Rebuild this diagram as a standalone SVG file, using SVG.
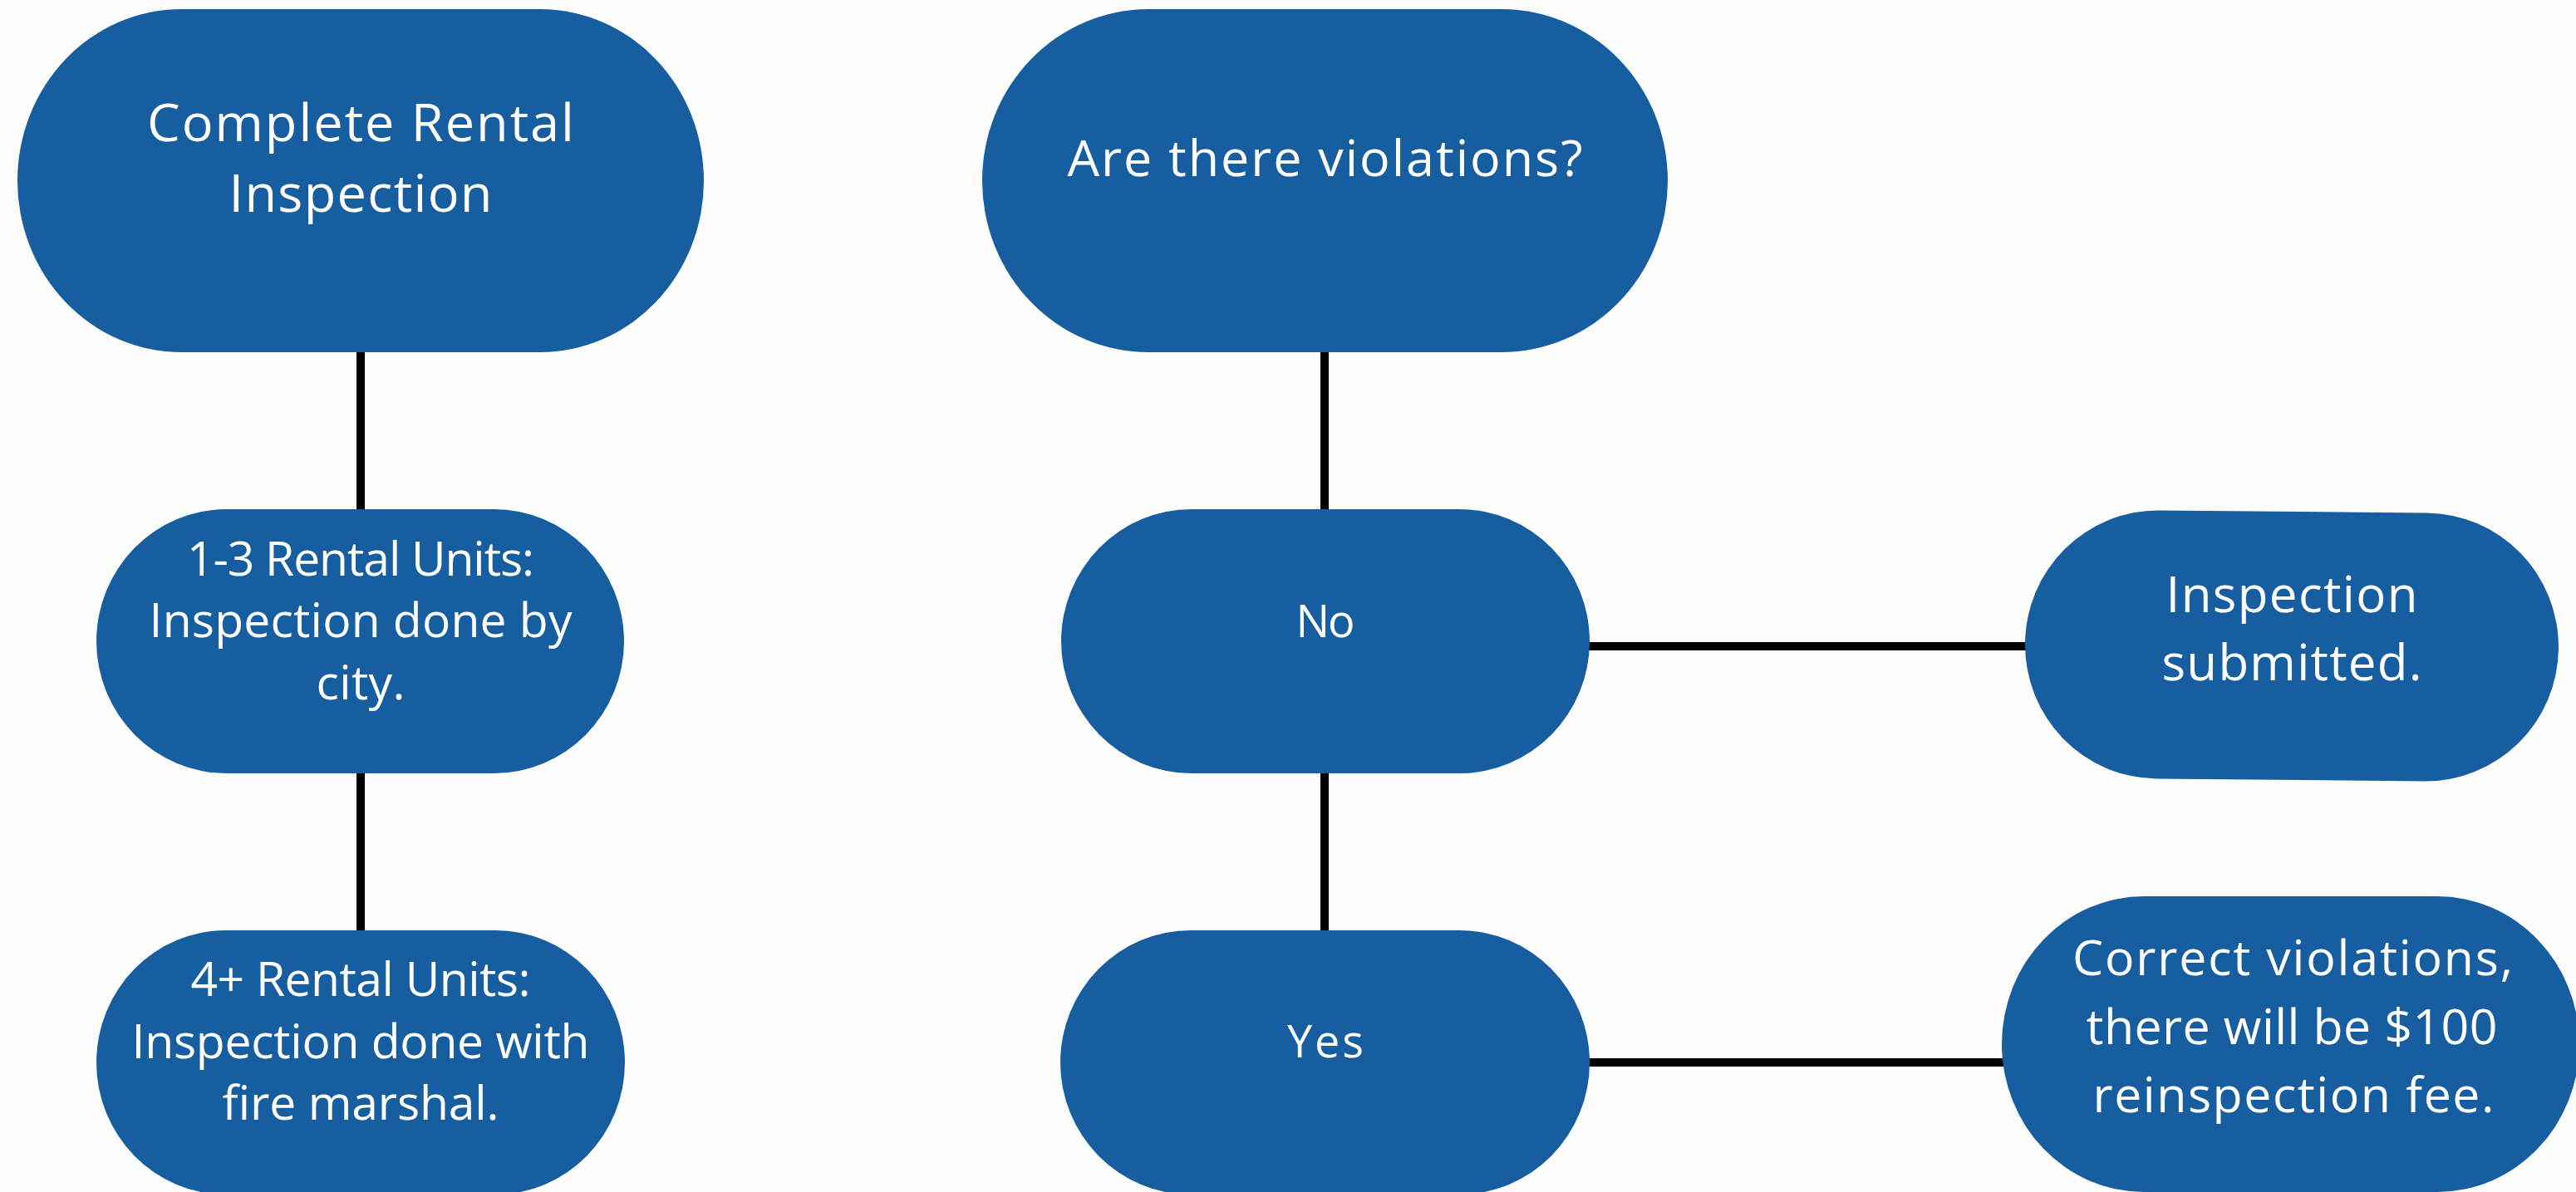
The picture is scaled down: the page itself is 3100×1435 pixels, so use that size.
<svg xmlns="http://www.w3.org/2000/svg" width="3100" height="1435" viewBox="0 0 3100 1435">
<style>
.node{fill:#175ea0}
.lbl{fill:#ffffff;font-family:"Open Sans","Liberation Sans",sans-serif;text-anchor:middle}
.conn{stroke:#000000;stroke-width:10;fill:none}
</style>
<rect x="0" y="0" width="3100" height="1435" fill="#fdfdfd"/>
<g id="connectors">
<line class="conn" x1="434" y1="420" x2="434" y2="617"/>
<line class="conn" x1="434" y1="927" x2="434" y2="1124"/>
<line class="conn" x1="1594" y1="420" x2="1594" y2="617"/>
<line class="conn" x1="1594" y1="927" x2="1594" y2="1124"/>
<line class="conn" x1="1908" y1="778" x2="2441" y2="778"/>
<line class="conn" x1="1909" y1="1279" x2="2413" y2="1279"/>
</g>
<g id="node-complete">
<rect class="node" x="21" y="11" width="826" height="413" rx="197" ry="206.5"/>
<text class="lbl" font-size="63" x="434" y="170" textLength="514">Complete Rental</text>
<text class="lbl" font-size="63" x="434" y="255" textLength="317">Inspection</text>
</g>
<g id="node-violations">
<rect class="node" x="1182" y="11" width="825" height="413" rx="200" ry="206.5"/>
<text class="lbl" font-size="61" x="1594.5" y="212" textLength="620">Are there violations?</text>
</g>
<g id="node-1-3">
<rect class="node" x="116" y="613" width="635" height="318" rx="157" ry="159"/>
<text class="lbl" font-size="57" x="434" y="693" textLength="418">1-3 Rental Units:</text>
<text class="lbl" font-size="57" x="434" y="767" textLength="509">Inspection done by</text>
<text class="lbl" font-size="57" x="434" y="842" textLength="107">city.</text>
</g>
<g id="node-4plus">
<rect class="node" x="116" y="1120" width="636" height="318" rx="156" ry="159"/>
<text class="lbl" font-size="57" x="434" y="1199" textLength="409">4+ Rental Units:</text>
<text class="lbl" font-size="57" x="434" y="1274" textLength="551">Inspection done with</text>
<text class="lbl" font-size="57" x="434" y="1348" textLength="333">fire marshal.</text>
</g>
<g id="node-no">
<rect class="node" x="1277" y="613" width="636" height="318" rx="157" ry="159"/>
<text class="lbl" font-size="54" x="1595" y="767" textLength="71">No</text>
</g>
<g id="node-yes">
<rect class="node" x="1276" y="1120" width="637" height="318" rx="157" ry="159"/>
<text class="lbl" font-size="54" x="1595" y="1273" textLength="92">Yes</text>
</g>
<g id="node-submitted">
<rect class="node" x="2437" y="616" width="642" height="323" rx="160" ry="161.5" transform="rotate(0.53 2758 777.5)"/>
<text class="lbl" font-size="60" x="2758" y="737" textLength="303">Inspection</text>
<text class="lbl" font-size="60" x="2758" y="819" textLength="313">submitted.</text>
</g>
<g id="node-correct">
<rect class="node" x="2409" y="1079" width="695" height="356" rx="171" ry="178"/>
<text class="lbl" font-size="59" x="2759" y="1174" textLength="530">Correct violations,</text>
<text class="lbl" font-size="59" x="2758" y="1257" textLength="495">there will be $100</text>
<text class="lbl" font-size="59" x="2760" y="1339" textLength="483">reinspection fee.</text>
</g>
</svg>
